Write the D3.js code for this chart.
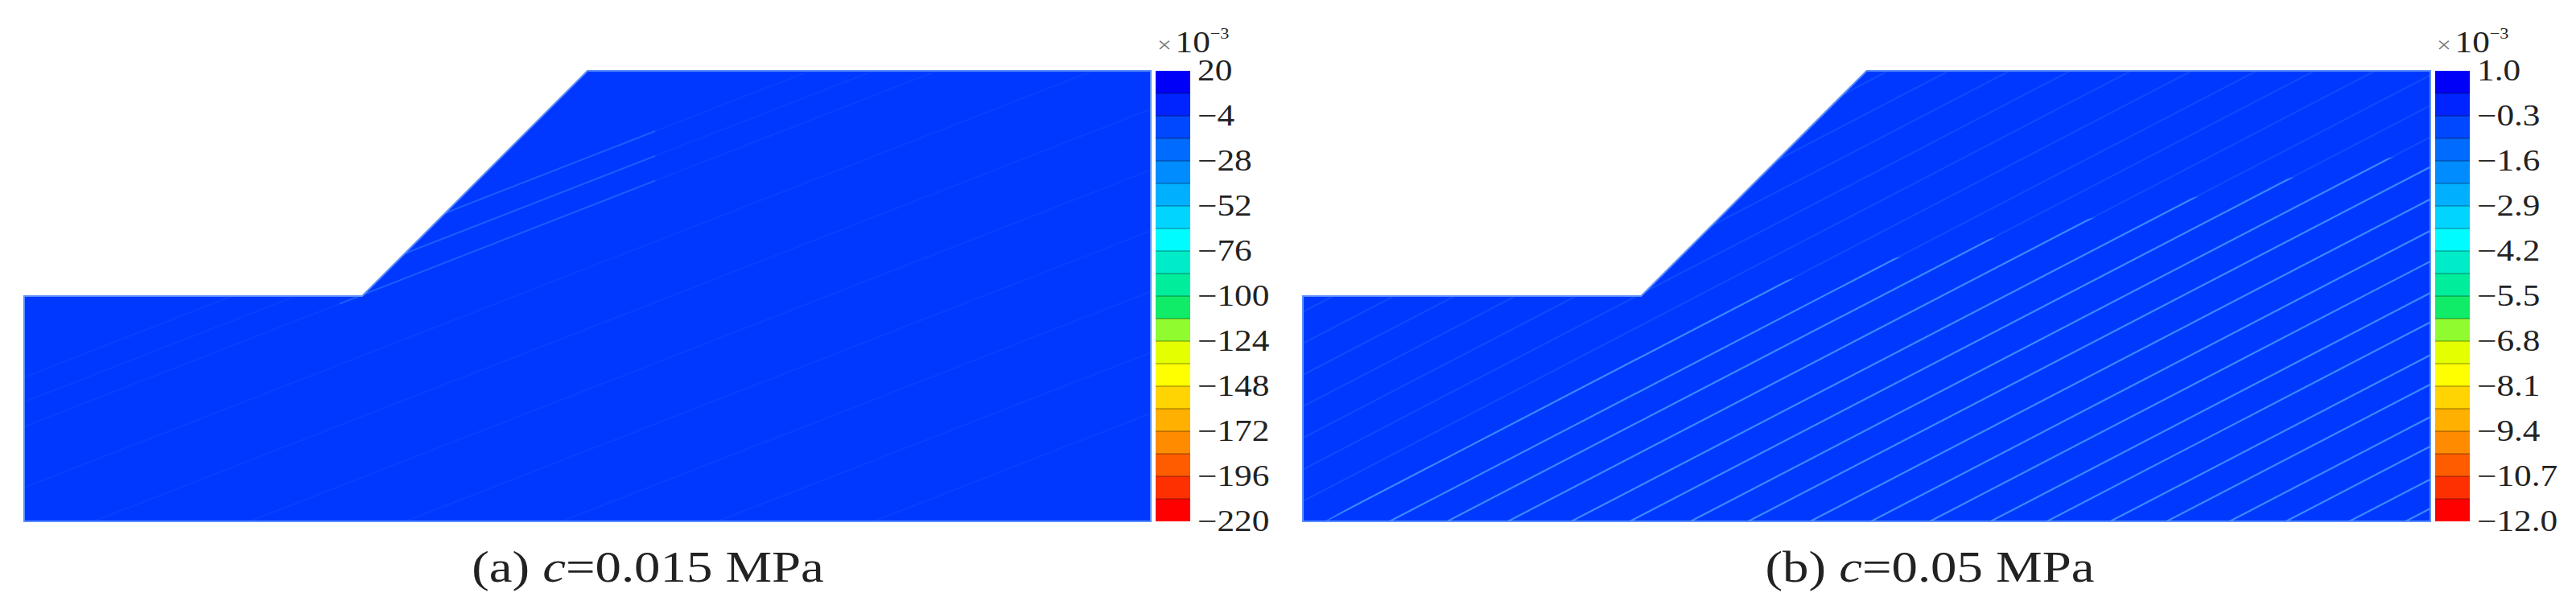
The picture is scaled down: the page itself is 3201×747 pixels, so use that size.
<!DOCTYPE html>
<html>
<head>
<meta charset="utf-8">
<script src="https://cdn.jsdelivr.net/npm/d3@7"></script>
<style>
  body { margin: 0; background: #fff; }
  text { font-family: "Liberation Serif", "Times New Roman", serif; fill: #222; }
</style>
</head>
<body>
<script>
// slope profile, model units (m)
var profileX = [0, 0, 15, 25, 50, 50];
var profileY = [0, 10, 10, 20, 20, 0];

// colorbar (x10^-3)
var ticksA = [20, -4, -28, -52, -76, -100, -124, -148, -172, -196, -220];
var labelsA = ["20", "\u22124", "\u221228", "\u221252", "\u221276", "\u2212100", "\u2212124", "\u2212148", "\u2212172", "\u2212196", "\u2212220"];
var levelsA = [20, 8, -4, -16, -28, -40, -52, -64, -76, -88, -100, -112, -124, -136, -148, -160, -172, -184, -196, -208, -220];

var ticksB = [1.0, -0.3, -1.6, -2.9, -4.2, -5.5, -6.8, -8.1, -9.4, -10.7, -12.0];
var labelsB = ["1.0", "\u22120.3", "\u22121.6", "\u22122.9", "\u22124.2", "\u22125.5", "\u22126.8", "\u22128.1", "\u22129.4", "\u221210.7", "\u221212.0"];
var levelsB = [1.0, 0.35, -0.3, -0.95, -1.6, -2.25, -2.9, -3.55, -4.2, -4.85, -5.5, -6.15, -6.8, -7.45, -8.1, -8.75, -9.4, -10.05, -10.7, -11.35, -12.0];

var bandColors = ["#0000f8", "#0024ff", "#0048ff", "#006cff", "#008cff", "#00b0ff", "#00d4ff", "#00fcff",
                  "#00ecc8", "#00ee9c", "#10ec68", "#90fc30", "#e4ff00", "#ffff00", "#ffd400", "#ffb000",
                  "#ff8c00", "#ff5c00", "#ff3000", "#ff0000"];

// faint contour streaks: y-intercept at x=0 (m), common slope
var streaksA = [4.2, 5.3, 6.4, 1.5, -1.2, -3.9, -6.6, -9.3, -12.0, -14.7];
var slopeA = 0.39;
var streaksB = [-0.5, -2.0, -3.33, -4.73, -6.19, -7.54, -8.94, -10.27, -11.7, -13.1, -14.46, -15.86, -17.16, -18.62, -19.92, -21.37, -22.67, -24.13, -25.43,
                 0.9, 2.3, 3.7, 5.1, 6.5, 7.9, 9.3];
var slopeB = 0.52;
var bandRegionX = [1.0, 18.1, 50, 50];
var bandRegionY = [0, 10.04, 16.5, 0];

var panels = [
  {id: "a", left: 30, right: 1430, cbLeft: 1436, cbRight: 1479, capX: 805, cap: ["(a) ", "c", "=0.015 MPa"],
   ticks: ticksA, labels: labelsA, levels: levelsA, streaks: streaksA, slope: slopeA, strong: 0.4, faint: 0.12, band: false},
  {id: "b", left: 1619, right: 3020, cbLeft: 3026, cbRight: 3069, capX: 2398, cap: ["(b) ", "c", "=0.05 MPa"],
   ticks: ticksB, labels: labelsB, levels: levelsB, streaks: streaksB, slope: slopeB, strong: 0.85, faint: 0.25, band: true}
];

var plotTop = 88, plotBottom = 648, sx = 1.17;

var svg = d3.select("body").append("svg")
    .attr("width", 3201)
    .attr("height", 747);
var defs = svg.append("defs");

panels.forEach(function(p) {
  var x = d3.scaleLinear().domain([0, 50]).range([p.left, p.right]);
  var y = d3.scaleLinear().domain([0, 20]).range([plotBottom, plotTop]);
  var pts = profileX.map(function(d, i) { return [x(d), y(profileY[i])]; });
  var line = d3.line();

  defs.append("clipPath").attr("id", "clip-" + p.id)
    .append("path").attr("d", line(pts) + "Z");
  var bandPts = bandRegionX.map(function(d, i) { return [x(d), y(bandRegionY[i])]; });
  defs.append("clipPath").attr("id", "band-" + p.id)
    .append("path").attr("d", line(bandPts) + "Z");

  var g = svg.append("g");
  g.append("path")
      .attr("d", line(pts) + "Z")
      .attr("fill", "#0038ff");

  // streaks
  var sg = g.append("g").attr("clip-path", "url(#clip-" + p.id + ")");
  function streak(d) { return line([[x(0), y(d)], [x(60), y(d + p.slope * 60)]]); }
  sg.selectAll(".faint").data(p.streaks).enter().append("path")
      .attr("d", streak)
      .attr("stroke", "#3d86ff").attr("stroke-width", 2).attr("fill", "none")
      .attr("opacity", p.faint);
  if (p.band) {
    sg.append("g").attr("clip-path", "url(#band-" + p.id + ")")
      .selectAll(".strong").data(p.streaks).enter().append("path")
      .attr("d", streak)
      .attr("stroke", "#4294ff").attr("stroke-width", 2.2).attr("fill", "none")
      .attr("opacity", p.strong);
  } else {
    sg.selectAll(".strong").data(p.streaks.slice(0, 3)).enter().append("path")
      .attr("d", function(d) { return line([[x(14), y(d + p.slope * 14)], [x(28), y(d + p.slope * 28)]]); })
      .attr("stroke", "#3d8cff").attr("stroke-width", 2).attr("fill", "none")
      .attr("opacity", p.strong);
  }

  g.append("path")
      .attr("d", line(pts) + "Z")
      .attr("fill", "none")
      .attr("stroke", "#5c90ff")
      .attr("stroke-width", 2);

  // colorbar
  var c = d3.scaleLinear().domain([p.levels[0], p.levels[p.levels.length - 1]]).range([plotTop, plotBottom]);
  var cb = svg.append("g");
  cb.selectAll("rect").data(bandColors).enter().append("rect")
      .attr("x", p.cbLeft)
      .attr("width", p.cbRight - p.cbLeft)
      .attr("y", function(d, i) { return c(p.levels[i]); })
      .attr("height", function(d, i) { return c(p.levels[i + 1]) - c(p.levels[i]); })
      .attr("fill", function(d) { return d; });
  cb.selectAll("line").data(p.levels.slice(1, -1)).enter().append("line")
      .attr("x1", p.cbLeft).attr("x2", p.cbRight)
      .attr("y1", function(d) { return c(d); }).attr("y2", function(d) { return c(d); })
      .attr("stroke", "#000").attr("stroke-opacity", 0.3).attr("stroke-width", 1.5);

  var axis = d3.axisRight(c)
      .tickValues(p.ticks)
      .tickFormat(function(d, i) { return p.labels[i]; })
      .tickSize(0);
  var ax = svg.append("g")
      .attr("transform", "translate(" + p.cbRight + ",0)")
      .call(axis);
  ax.select(".domain").remove();
  ax.selectAll("text")
      .attr("x", 0)
      .attr("transform", "translate(9,0) scale(" + sx + ",1)")
      .style("font-family", "'Liberation Serif', serif")
      .style("font-size", "37px")
      .attr("fill", "#222");

  // x10^-3
  var ex = svg.append("text")
      .attr("transform", "translate(" + (p.cbLeft + 2) + ",65) scale(" + sx + ",1)");
  ex.append("tspan").text("\u00d7").attr("font-size", 27).attr("fill", "#777");
  ex.append("tspan").text("10").attr("font-size", 37).attr("dx", 4);
  ex.append("tspan").text("\u22123").attr("font-size", 19).attr("dy", -17);

  // caption
  var cap = svg.append("text")
      .attr("transform", "translate(" + p.capX + ",723) scale(1.2,1)")
      .attr("text-anchor", "middle")
      .attr("font-size", 54)
      .attr("fill", "#1a1a1a");
  cap.append("tspan").text(p.cap[0]);
  cap.append("tspan").text(p.cap[1]).attr("font-style", "italic");
  cap.append("tspan").text(p.cap[2]);
});
</script>
</body>
</html>
